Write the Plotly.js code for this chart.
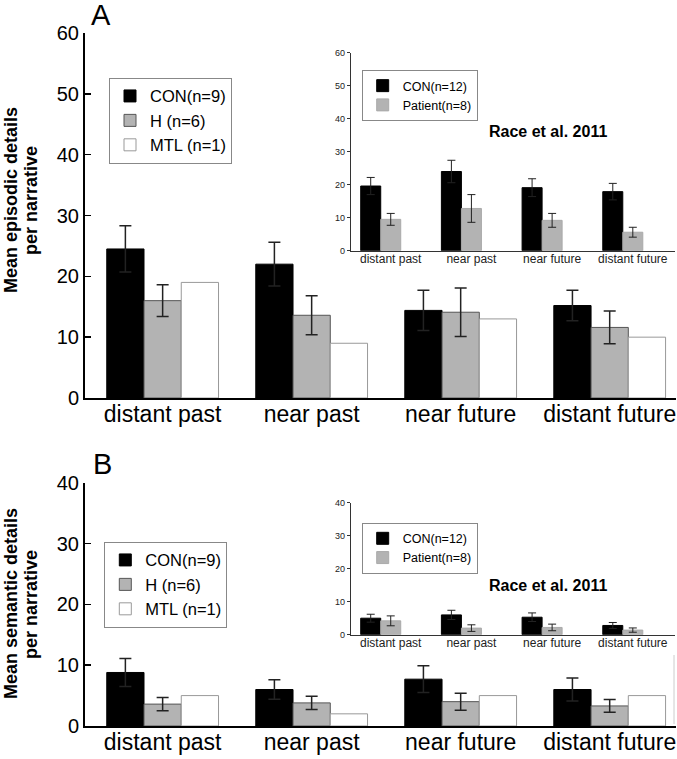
<!DOCTYPE html>
<html>
<head>
<meta charset="utf-8">
<script src="https://cdn.plot.ly/plotly-3.0.1.min.js"></script>
<style>html,body{margin:0;padding:0;background:#fff;}#chart{width:677px;height:759px;}</style>
</head>
<body>
<div id="chart"></div>
<script>
// ---------- data ----------
var categories = ['distant past', 'near past', 'near future', 'distant future'];

// Panel A – episodic details (main)
var epiCON = [24.5, 22.0, 14.4, 15.2];
var epiCONerr = [3.8, 3.6, 3.3, 2.5];
var epiH = [16.0, 13.6, 14.1, 11.6];
var epiHerr = [2.6, 3.2, 4.0, 2.7];
var epiMTL = [19, 9, 13, 10];

// Panel A inset – Race et al. 2011
var raceEpiCON = [19.6, 24.0, 19.1, 17.9];
var raceEpiCONerr = [2.6, 3.4, 2.7, 2.5];
var raceEpiPat = [9.5, 12.8, 9.2, 5.6];
var raceEpiPatErr = [1.8, 4.2, 2.1, 1.5];

// Panel B – semantic details (main)
var semCON = [8.8, 6.0, 7.7, 6.0];
var semCONerr = [2.3, 1.6, 2.2, 1.9];
var semH = [3.6, 3.8, 4.0, 3.3];
var semHerr = [1.1, 1.1, 1.4, 1.05];
var semMTL = [5, 2, 5, 5];

// Panel B inset – Race et al. 2011
var raceSemCON = [5.0, 6.0, 5.3, 2.8];
var raceSemCONerr = [1.2, 1.4, 1.3, 0.9];
var raceSemPat = [4.2, 2.0, 2.2, 1.4];
var raceSemPatErr = [1.5, 1.0, 1.0, 0.65];

var mainTicksA = [0, 10, 20, 30, 40, 50, 60];
var mainTicksB = [0, 10, 20, 30, 40];

// ---------- helpers ----------
var W = 677, H = 759;
function px(x) { return x / W; }
function py(y) { return 1 - y / H; }
var FONT = 'Liberation Sans, Arial, Helvetica, sans-serif';

var GRAY = '#b3b3b3';
function errCfg(arr, w, t) {
  return {type: 'data', array: arr, visible: true, color: '#222', thickness: t, width: w};
}
function mainBar(name, y, err, xa, ya, color, lineColor, leg) {
  var tr = {
    type: 'bar', name: name, x: categories, y: y, xaxis: xa, yaxis: ya,
    marker: {color: color, line: {color: lineColor, width: 1}},
    legend: leg, hoverinfo: 'skip'
  };
  if (err) tr.error_y = errCfg(err, 6, 1.5);
  return tr;
}
function insetBar(name, y, err, xa, ya, color, lineColor, leg, offset) {
  return {
    type: 'bar', name: name, x: categories, y: y, xaxis: xa, yaxis: ya,
    width: 0.248, offset: offset,
    marker: {color: color, line: {color: lineColor, width: 1}},
    error_y: errCfg(err, 4, 1),
    legend: leg, hoverinfo: 'skip'
  };
}

var traces = [
  mainBar('CON(n=9)', epiCON, epiCONerr, 'x', 'y', '#000', '#000', 'legend'),
  mainBar('H (n=6)', epiH, epiHerr, 'x', 'y', GRAY, '#555', 'legend'),
  mainBar('MTL (n=1)', epiMTL, null, 'x', 'y', '#fff', '#999', 'legend'),
  insetBar('CON(n=12)', raceEpiCON, raceEpiCONerr, 'x2', 'y2', '#000', '#000', 'legend2', -0.372),
  insetBar('Patient(n=8)', raceEpiPat, raceEpiPatErr, 'x2', 'y2', GRAY, '#aaa', 'legend2', -0.124),
  mainBar('CON(n=9)', semCON, semCONerr, 'x3', 'y3', '#000', '#000', 'legend3'),
  mainBar('H (n=6)', semH, semHerr, 'x3', 'y3', GRAY, '#555', 'legend3'),
  mainBar('MTL (n=1)', semMTL, null, 'x3', 'y3', '#fff', '#999', 'legend3'),
  insetBar('CON(n=12)', raceSemCON, raceSemCONerr, 'x4', 'y4', '#000', '#000', 'legend4', -0.372),
  insetBar('Patient(n=8)', raceSemPat, raceSemPatErr, 'x4', 'y4', GRAY, '#aaa', 'legend4', -0.124)
];

function mainX(anchor) {
  return {
    domain: [px(85), px(676)], anchor: anchor, type: 'category',
    range: [-0.521, 3.445], showline: true, linewidth: 2, linecolor: '#000',
    ticks: '', showgrid: false, zeroline: false, ticklabelstandoff: -6,
    tickfont: {family: FONT, size: 23, color: '#000'}, fixedrange: true
  };
}
function mainY(anchor, yTop, yBot, rmax, tv) {
  return {
    domain: [py(yBot), py(yTop)], anchor: anchor, range: [0, rmax],
    tickvals: tv, showline: true, linewidth: 2, linecolor: '#000',
    ticks: 'inside', ticklen: 6, tickwidth: 1.5, tickcolor: '#000',
    showgrid: false, zeroline: false,
    tickfont: {family: FONT, size: 20, color: '#000'}, fixedrange: true
  };
}
function insetX(anchor) {
  return {
    domain: [px(350.7), px(675)], anchor: anchor, type: 'category',
    range: [-0.496, 3.523], showline: true, linewidth: 1, linecolor: '#333',
    ticks: '', showgrid: false, zeroline: false, ticklabelstandoff: -3,
    tickfont: {family: FONT, size: 12, color: '#222'}, fixedrange: true
  };
}
function insetY(anchor, yTop, yBot, rmax, tv) {
  return {
    domain: [py(yBot), py(yTop)], anchor: anchor, range: [0, rmax],
    tickvals: tv, showline: true, linewidth: 1, linecolor: '#333',
    ticks: 'outside', ticklen: 3, tickwidth: 1, tickcolor: '#333',
    showgrid: false, zeroline: false,
    tickfont: {family: FONT, size: 9, color: '#222'}, fixedrange: true
  };
}
function legendCfg(x, y, size, ew) {
  return {
    x: px(x), y: py(y), xanchor: 'left', yanchor: 'top',
    xref: 'paper', yref: 'paper',
    bgcolor: 'rgba(255,255,255,1)', bordercolor: '#888', borderwidth: 1,
    entrywidth: ew, entrywidthmode: 'pixels',
    font: {family: FONT, size: size, color: '#000'}, traceorder: 'normal'
  };
}
function ann(text, x, y, size, bold, angle) {
  return {
    text: bold ? '<b>' + text + '</b>' : text, x: px(x), y: py(y),
    xref: 'paper', yref: 'paper', xanchor: 'center', yanchor: 'middle',
    showarrow: false, textangle: angle || 0,
    font: {family: FONT, size: size, color: '#000'}
  };
}

var layout = {
  width: W, height: H,
  margin: {l: 0, r: 0, t: 0, b: 0},
  paper_bgcolor: '#fff', plot_bgcolor: 'rgba(0,0,0,0)',
  barmode: 'group', bargap: 0.25, bargroupgap: 0,
  showlegend: true,
  font: {family: FONT},
  xaxis: mainX('y'), yaxis: mainY('x', 33, 398, 60, mainTicksA),
  xaxis2: insetX('y2'), yaxis2: insetY('x2', 52.7, 250.7, 60, mainTicksA),
  xaxis3: mainX('y3'), yaxis3: mainY('x3', 482.7, 726, 40, mainTicksB),
  xaxis4: insetX('y4'), yaxis4: insetY('x4', 502.7, 634.7, 40, mainTicksB),
  legend: legendCfg(109, 77.7, 16.5, 92),
  legend2: legendCfg(361.7, 70, 12.5, 62),
  legend3: legendCfg(104.3, 541.7, 16.5, 92),
  legend4: legendCfg(361.7, 522.7, 12.5, 62),
  annotations: [
    ann('A', 101, 15, 29, false),
    ann('B', 102, 464, 29, false),
    ann('Mean episodic details', 11, 200, 18, true, -90),
    ann('per narrative', 31, 200, 18, true, -90),
    ann('Mean semantic details', 11, 604, 18, true, -90),
    ann('per narrative', 31, 604, 18, true, -90),
    ann('Race et al. 2011', 548, 131.7, 16, true),
    ann('Race et al. 2011', 548, 585, 16, true)
  ],
  shapes: [
    {type: 'line', xref: 'paper', yref: 'paper', x0: px(674), x1: px(674), y0: py(655), y1: py(724),
     line: {color: '#ccc', width: 1}}
  ]
};

Plotly.newPlot('chart', traces, layout, {displayModeBar: false, staticPlot: true});
</script>
</body>
</html>
